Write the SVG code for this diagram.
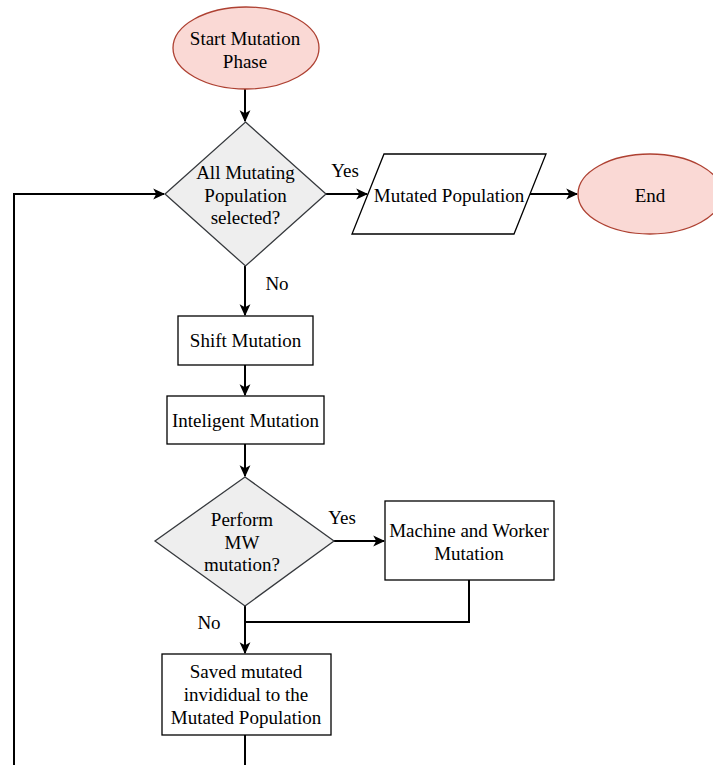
<svg xmlns="http://www.w3.org/2000/svg" width="713" height="765" viewBox="0 0 713 765">
<defs>
<style>
text{font-family:"Liberation Serif","Times New Roman",Tinos,"Noto Serif","DejaVu Serif",serif;font-size:19px;fill:#000;text-anchor:middle;dominant-baseline:central}
.term{fill:#fad9d5;stroke:#ae4132;stroke-width:1.3}
.dec{fill:#eeeeee;stroke:#36393d;stroke-width:1.3}
.box{fill:#fff;stroke:#000;stroke-width:1.3}
.edge{fill:none;stroke:#000;stroke-width:2}
.arr{marker-end:url(#ah)}
</style>
<marker id="ah" viewBox="0 0 10 10" refX="9" refY="5" markerWidth="12" markerHeight="12" markerUnits="userSpaceOnUse" orient="auto">
<path d="M0,0.5 L10,5 L0,9.5 L2.5,5 Z" fill="#000"/>
</marker>
</defs>
<g id="connectors">
<path class="edge arr" d="M245,89 V121"/>
<path class="edge arr" d="M326,194 H367"/>
<path class="edge arr" d="M530,194 H577"/>
<path class="edge arr" d="M245,266 V315"/>
<path class="edge arr" d="M245,365 V395"/>
<path class="edge arr" d="M245,444 V476"/>
<path class="edge arr" d="M334,541 H384"/>
<path class="edge" d="M469,580 V622 H245"/>
<path class="edge arr" d="M245,606 V653"/>
<path class="edge" d="M245,735 V765"/>
<path class="edge arr" d="M14,765 V194 H164"/>
<text x="345" y="170">Yes</text>
<text x="277" y="283">No</text>
<text x="342" y="517">Yes</text>
<text x="209" y="622">No</text>
</g>
<g id="start">
<ellipse class="term" cx="246" cy="48" rx="73" ry="41"/>
<text x="245" y="38">Start Mutation</text>
<text x="245" y="61">Phase</text>
</g>
<g id="decision1">
<polygon class="dec" points="245.5,122 326,194 245.5,266 165,194"/>
<text x="245.5" y="172">All Mutating</text>
<text x="245.5" y="195">Population</text>
<text x="245.5" y="217">selected?</text>
</g>
<g id="mutated-population">
<polygon class="box" points="384,154 546,154 514,234 352,234"/>
<text x="449" y="195">Mutated Population</text>
</g>
<g id="end">
<ellipse class="term" cx="650" cy="194" rx="72" ry="40"/>
<text x="650" y="195">End</text>
</g>
<g id="shift-mutation">
<rect class="box" x="178" y="316" width="135" height="49"/>
<text x="245.5" y="340">Shift Mutation</text>
</g>
<g id="inteligent-mutation">
<rect class="box" x="167" y="396" width="157" height="48"/>
<text x="245.5" y="420">Inteligent Mutation</text>
</g>
<g id="decision2">
<polygon class="dec" points="245,477 334,541 245,606 155,541"/>
<text x="242" y="519">Perform</text>
<text x="242" y="542">MW</text>
<text x="242" y="564">mutation?</text>
</g>
<g id="mw-mutation">
<rect class="box" x="385" y="501" width="169" height="79"/>
<text x="469" y="530">Machine and Worker</text>
<text x="469" y="553">Mutation</text>
</g>
<g id="saved">
<rect class="box" x="162" y="654" width="169" height="81"/>
<text x="246" y="671">Saved mutated</text>
<text x="246" y="694">invididual to the</text>
<text x="246" y="717">Mutated Population</text>
</g>
</svg>
